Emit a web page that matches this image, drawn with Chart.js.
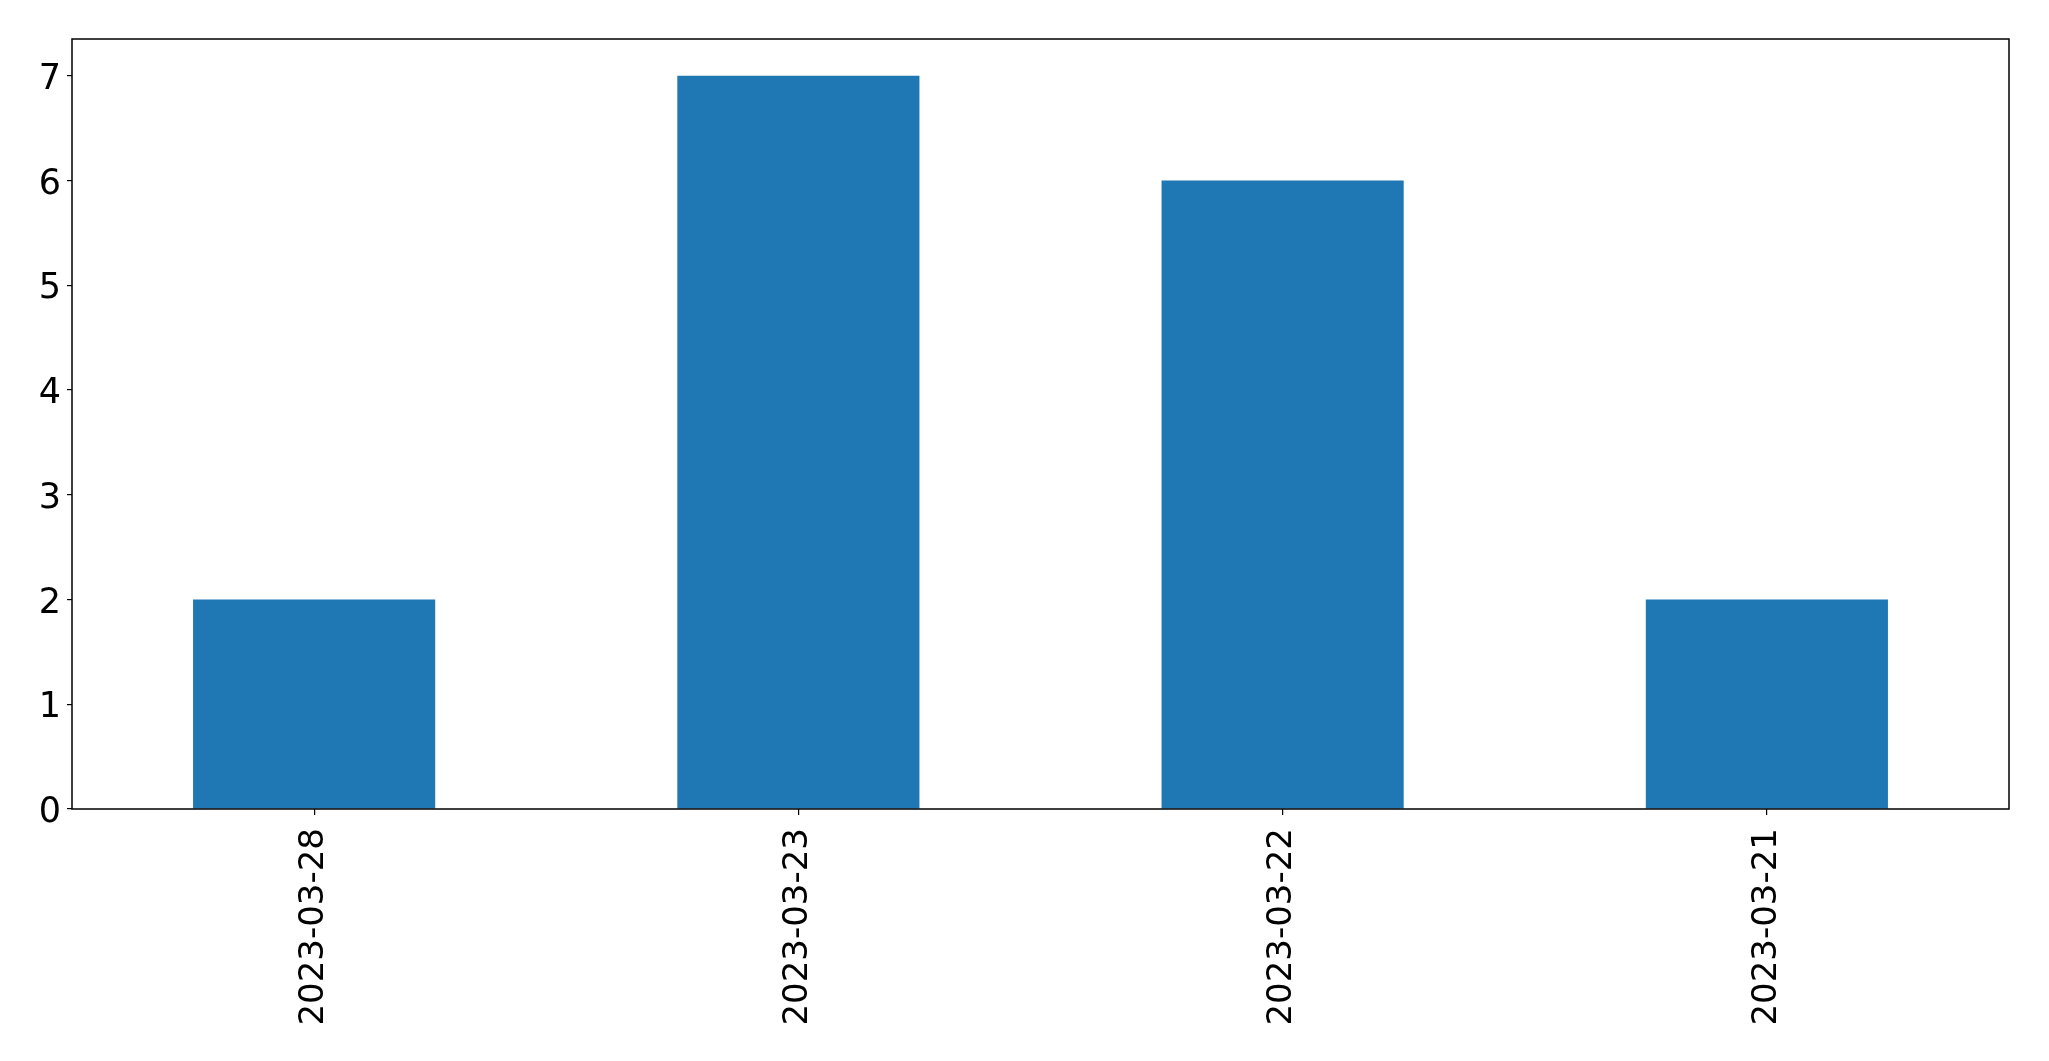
<!DOCTYPE html>
<html>
<head>
<meta charset="utf-8">
<script src="https://cdn.jsdelivr.net/npm/chart.js@4/dist/chart.umd.min.js"></script>
<style>
  html, body { margin: 0; padding: 0; background: #fff; }
  #wrap { width: 2049px; height: 1061px; }
</style>
</head>
<body>
<div id="wrap"><canvas id="chart"></canvas></div>
<script>
const dates = ['2023-03-28', '2023-03-23', '2023-03-22', '2023-03-21'];
const counts = [2, 7, 6, 2];
const yTicks = [0, 1, 2, 3, 4, 5, 6, 7];

// box around the plot area, like matplotlib's spines
const frame = {
  id: 'frame',
  afterDraw(chart) {
    const a = chart.chartArea;
    const ctx = chart.ctx;
    ctx.save();
    ctx.strokeStyle = '#000';
    ctx.lineWidth = 1.5;
    ctx.strokeRect(a.left, a.top, a.right - a.left, a.bottom - a.top);
    ctx.restore();
  }
};

const ctx = document.getElementById('chart').getContext('2d');
const chart = new Chart(ctx, {
  type: 'bar',
  data: {
    labels: dates,
    datasets: [{
      data: counts,
      backgroundColor: '#1f77b4',
      borderWidth: 0,
      categoryPercentage: 1.0,
      barPercentage: 0.5
    }]
  },
  options: {
    responsive: true,
    maintainAspectRatio: false,
    animation: false,
    layout: { padding: { top: 39, right: 40, left: 0, bottom: 0 } },
    plugins: { legend: { display: false }, tooltip: { enabled: false } },
    scales: {
      x: {
        offset: true,
        grid: { display: true, drawOnChartArea: false, tickLength: 6, color: '#000', lineWidth: 1.2, offset: false },
        border: { display: false },
        ticks: {
          color: '#000',
          font: { family: 'DejaVu Sans', size: 34 },
          minRotation: 90,
          maxRotation: 90,
          padding: 13,
          autoSkip: false
        },
        afterFit(scale) { scale.height = 252; }
      },
      y: {
        min: 0,
        max: 7.35,
        grid: { display: true, drawOnChartArea: false, tickLength: 5, color: '#000', lineWidth: 1.2 },
        border: { display: false },
        ticks: {
          stepSize: 1,
          color: '#000',
          font: { family: 'DejaVu Sans', size: 35 },
          padding: 6,
          labelOffset: 4
        },
        afterBuildTicks(scale) {
          scale.ticks = yTicks.map(v => ({ value: v }));
        },
        afterFit(scale) { scale.width = 72; }
      }
    }
  },
  plugins: [frame]
});
</script>
</body>
</html>
